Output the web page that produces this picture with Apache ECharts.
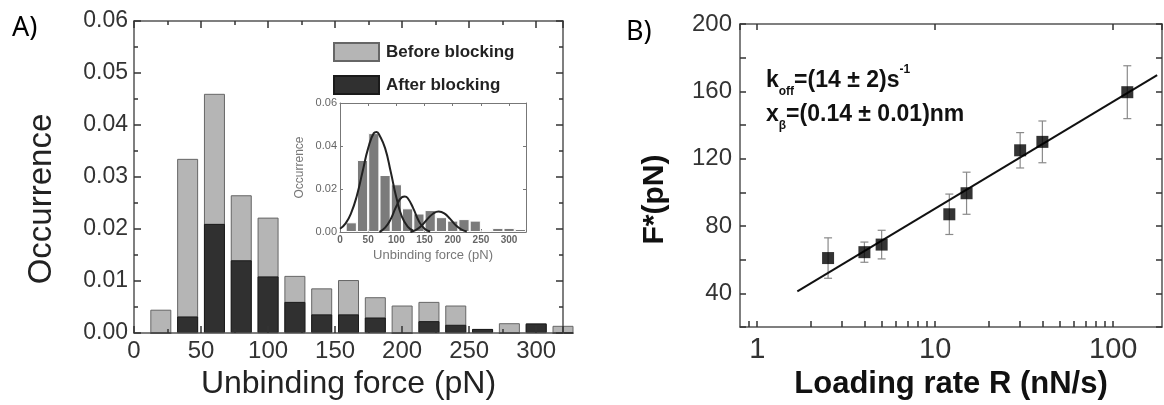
<!DOCTYPE html>
<html>
<head>
    <meta charset="UTF-8">
    <title>Unbinding force / loading rate</title>
    <script src="https://cdn.jsdelivr.net/npm/echarts@6.0.0/dist/echarts.min.js"></script>
    <style>
        html, body { margin: 0; padding: 0; background: #fff; }
    </style>
</head>
<body>

<div id="main" style="width: 1164px;height:405px"></div>

<script type="text/javascript">
    // ---- panel A: histogram data (pN bin centres, occurrence) ----
    var forceBins = [20, 40, 60, 80, 100, 120, 140, 160, 180, 200, 220, 240, 260, 280, 300, 320];
    var beforeBlocking = [0.0045, 0.0335, 0.046, 0.0265, 0.0222, 0.011, 0.0086, 0.0102, 0.0069, 0.0053, 0.006, 0.0053, 0.0008, 0.0019, 0.0019, 0.0014];
    var afterBlocking = [0, 0.0032, 0.021, 0.014, 0.0109, 0.006, 0.0036, 0.0036, 0.003, 0, 0.0023, 0.0016, 0.0008, 0, 0.0018, 0];

    // inset fitted peaks
    var peak1 = [[0, 0.0015], [10, 0.004], [20, 0.009], [30, 0.017], [40, 0.028], [50, 0.039], [60, 0.046], [65, 0.0465], [70, 0.045], [80, 0.039], [90, 0.028], [100, 0.016], [110, 0.007], [120, 0.0025], [130, 0.0006]];
    var peak2 = [[70, 0], [80, 0.002], [90, 0.006], [100, 0.012], [110, 0.0162], [115, 0.0165], [120, 0.0158], [130, 0.011], [140, 0.005], [150, 0.0015], [160, 0.0002]];
    var peak3 = [[125, 0], [135, 0.001], [145, 0.003], [155, 0.006], [165, 0.0085], [175, 0.0095], [185, 0.0087], [195, 0.0062], [205, 0.0032], [215, 0.0012], [225, 0.0002]];

    // ---- panel B: loading rate (nN/s), F* (pN), error (pN) ----
    var loadingRate = [2.5, 4, 5, 12, 15, 30, 40, 120];
    var forceStar = [61, 64.5, 69, 87, 99.5, 125, 130, 159.5];
    var forceErr = [12, 6, 8.5, 12, 12.5, 10.5, 12.4, 15.7];
    var fitLine = [[1.68, 41.2], [176.6, 169.7]];
    var rateLabels = [1, 10, 100];
    var rateTicks = [0.9, 1, 2, 3, 4, 5, 6, 7, 8, 9, 10, 20, 30, 40, 50, 60, 70, 80, 90, 100];
    var fLabels = [40, 80, 120, 160, 200];

    var FONT = 'Liberation Sans, Arial, sans-serif';
    var TICK = { color: '#333', width: 1.5 };

    function zip(xs, ys) {
        return xs.map(function (x, i) { return [x, ys[i]]; });
    }

    function frameAxis(opts) {
        // mirror axis on the top / right: line + inside ticks, no labels
        var a = {
            show: true,
            axisLine: { show: true, onZero: false, lineStyle: { color: opts.color || '#555', width: opts.width || 1.5 } },
            axisTick: { show: true, inside: true, length: opts.tick || 7, lineStyle: opts.color ? { color: opts.color } : TICK },
            axisLabel: { show: false },
            splitLine: { show: false },
            z: 5
        };
        for (var k in opts.extra) a[k] = opts.extra[k];
        return a;
    }

    var myChart = echarts.init(document.getElementById('main'));

    var xA = {
        type: 'value', gridIndex: 0, min: 0, max: 320, interval: 50, position: 'bottom', z: 5,
        axisLine: { onZero: false, lineStyle: { color: '#555', width: 1.5 } },
        axisTick: { inside: true, length: 7, lineStyle: TICK },
        minorTick: { show: true, splitNumber: 2, length: 4, lineStyle: TICK },
        axisLabel: { fontSize: 24, color: '#333', fontFamily: FONT, margin: 6, showMaxLabel: false },
        splitLine: { show: false },
        name: 'Unbinding force (pN)', nameLocation: 'middle', nameGap: 26,
        nameTextStyle: { fontSize: 32, color: '#222', fontFamily: FONT }
    };
    var yA = {
        type: 'value', gridIndex: 0, min: 0, max: 0.06, interval: 0.01, position: 'left', z: 5,
        axisLine: { show: true, lineStyle: { color: '#555', width: 1.5 } },
        axisTick: { show: true, inside: true, length: 7, lineStyle: TICK },
        minorTick: { show: true, splitNumber: 2, length: 4, lineStyle: TICK },
        axisLabel: { fontSize: 23, color: '#333', fontFamily: FONT, margin: 6, formatter: function (v) { return v.toFixed(2); } },
        splitLine: { show: false },
        name: 'Occurrence', nameLocation: 'middle', nameGap: 76,
        nameTextStyle: { fontSize: 33, color: '#222', fontFamily: FONT, padding: [0, 44, 0, 0] }
    };

    var xIn = {
        type: 'value', gridIndex: 1, min: 0, max: 330, interval: 50, position: 'bottom',
        axisLine: { onZero: false, lineStyle: { color: '#777', width: 1 } },
        axisTick: { inside: true, length: 3, lineStyle: { color: '#777' } },
        axisLabel: { fontSize: 10, color: '#666', fontFamily: FONT, fontWeight: 'bold', margin: 3, showMaxLabel: false },
        splitLine: { show: false },
        name: 'Unbinding force (pN)', nameLocation: 'middle', nameGap: 17,
        nameTextStyle: { fontSize: 13, color: '#777', fontFamily: FONT }
    };
    var yIn = {
        type: 'value', gridIndex: 1, min: 0, max: 0.06, interval: 0.02, position: 'left',
        axisLine: { show: true, lineStyle: { color: '#777', width: 1 } },
        axisTick: { show: true, inside: true, length: 3, lineStyle: { color: '#777' } },
        axisLabel: { fontSize: 11, color: '#666', fontFamily: FONT, margin: 3, formatter: function (v) { return v.toFixed(2); } },
        splitLine: { show: false },
        name: 'Occurrence', nameLocation: 'middle', nameGap: 34,
        nameTextStyle: { fontSize: 12, color: '#777', fontFamily: FONT }
    };

    var xB = {
        type: 'log', gridIndex: 2, logBase: 10, min: 0.8, max: 188, position: 'bottom', z: 5,
        axisLine: { onZero: false, lineStyle: { color: '#555', width: 1.5 } },
        axisTick: { show: true, inside: true, length: 6, customValues: rateTicks, lineStyle: TICK },
        axisLabel: { fontSize: 29, color: '#333', fontFamily: FONT, margin: 8, customValues: rateLabels },
        splitLine: { show: false },
        name: 'Loading rate R (nN/s)', nameLocation: 'middle', nameGap: 33,
        nameTextStyle: { fontSize: 31, fontWeight: 'bold', color: '#111', fontFamily: FONT }
    };
    var yB = {
        type: 'value', gridIndex: 2, min: 20, max: 200, interval: 20, position: 'left', z: 5,
        axisLine: { show: true, lineStyle: { color: '#555', width: 1.5 } },
        axisTick: { show: true, inside: true, length: 6, lineStyle: TICK },
        axisLabel: { fontSize: 24, color: '#333', fontFamily: FONT, margin: 8, customValues: fLabels },
        splitLine: { show: false },
        name: 'F*(pN)', nameLocation: 'middle', nameGap: 70,
        nameTextStyle: { fontSize: 30, fontWeight: 'bold', color: '#111', fontFamily: FONT, padding: [0, 48, 0, 0] }
    };

    option = {
        backgroundColor: '#fff',
        animation: false,
        grid: [
            { left: 134, top: 21, width: 429, height: 319 },
            { left: 340, top: 103, width: 186, height: 129 },
            { left: 740, top: 24, width: 422, height: 314 }
        ],
        legend: {
            data: ['Before blocking', 'After blocking'],
            orient: 'vertical', left: 328, top: 37,
            itemWidth: 45, itemHeight: 18, itemGap: 13, icon: 'rect',
            textStyle: { fontSize: 17, fontWeight: 'bold', color: '#222', fontFamily: FONT, padding: [0, 0, 0, 2] }
        },
        xAxis: [
            xA,
            frameAxis({ extra: { type: 'value', gridIndex: 0, min: 0, max: 320, interval: 50, position: 'top',
                minorTick: { show: true, splitNumber: 2, length: 4, lineStyle: TICK } } }),
            xIn,
            frameAxis({ color: '#777', width: 1, tick: 3, extra: { type: 'value', gridIndex: 1, min: 0, max: 330, interval: 50, position: 'top' } }),
            xB,
            frameAxis({ tick: 6, extra: { type: 'log', gridIndex: 2, logBase: 10, min: 0.8, max: 188, position: 'top' } })
        ],
        yAxis: [
            yA,
            frameAxis({ extra: { type: 'value', gridIndex: 0, min: 0, max: 0.06, interval: 0.01, position: 'right',
                minorTick: { show: true, splitNumber: 2, length: 4, lineStyle: TICK } } }),
            yIn,
            frameAxis({ color: '#777', width: 1, tick: 3, extra: { type: 'value', gridIndex: 1, min: 0, max: 0.06, interval: 0.02, position: 'right' } }),
            yB,
            frameAxis({ tick: 6, extra: { type: 'value', gridIndex: 2, min: 20, max: 200, interval: 20, position: 'right' } })
        ],
        series: [
            {
                name: 'Before blocking', type: 'bar', xAxisIndex: 0, yAxisIndex: 0,
                data: zip(forceBins, beforeBlocking), barWidth: 21, barGap: '-100%',
                itemStyle: { color: '#b5b5b5', borderColor: '#666', borderWidth: 1 }
            },
            {
                name: 'After blocking', type: 'bar', xAxisIndex: 0, yAxisIndex: 0,
                data: zip(forceBins, afterBlocking), barWidth: 21, barGap: '-100%',
                itemStyle: { color: '#303030', borderColor: '#1a1a1a', borderWidth: 1 }
            },
            {
                name: 'inset', type: 'bar', xAxisIndex: 2, yAxisIndex: 2,
                data: zip(forceBins, beforeBlocking), barWidth: 11.2,
                itemStyle: { color: '#7b7b7b', borderColor: '#fff', borderWidth: 1 }
            },
            { type: 'line', xAxisIndex: 2, yAxisIndex: 2, data: peak1, smooth: true, showSymbol: false, lineStyle: { color: '#222', width: 2 } },
            { type: 'line', xAxisIndex: 2, yAxisIndex: 2, data: peak2, smooth: true, showSymbol: false, lineStyle: { color: '#222', width: 2 } },
            { type: 'line', xAxisIndex: 2, yAxisIndex: 2, data: peak3, smooth: true, showSymbol: false, lineStyle: { color: '#222', width: 2 } },
            {
                type: 'custom', xAxisIndex: 4, yAxisIndex: 4,
                data: loadingRate.map(function (r, i) { return [r, forceStar[i], forceErr[i]]; }),
                encode: { x: 0, y: 1 },
                renderItem: function (params, api) {
                    var x = api.value(0), y = api.value(1), e = api.value(2);
                    var hi = api.coord([x, y + e]), lo = api.coord([x, y - e]);
                    var w = 4, st = { stroke: '#8a8a8a', lineWidth: 1.2 };
                    return {
                        type: 'group', children: [
                            { type: 'line', shape: { x1: hi[0], y1: hi[1], x2: lo[0], y2: lo[1] }, style: st },
                            { type: 'line', shape: { x1: hi[0] - w, y1: hi[1], x2: hi[0] + w, y2: hi[1] }, style: st },
                            { type: 'line', shape: { x1: lo[0] - w, y1: lo[1], x2: lo[0] + w, y2: lo[1] }, style: st }
                        ]
                    };
                },
                z: 2
            },
            {
                type: 'line', xAxisIndex: 4, yAxisIndex: 4, data: fitLine, showSymbol: false,
                lineStyle: { color: '#111', width: 2 }, z: 3
            },
            {
                type: 'scatter', xAxisIndex: 4, yAxisIndex: 4, data: zip(loadingRate, forceStar),
                symbol: 'rect', symbolSize: 12, itemStyle: { color: '#000' }, z: 4
            }
        ],
        graphic: [
            { type: 'text', left: 12, top: 15, style: { text: 'A)', fontSize: 27, fill: '#000', fontFamily: 'Noto Sans, sans-serif' } },
            { type: 'text', left: 626, top: 19, style: { text: 'B)', fontSize: 27, fill: '#000', fontFamily: 'Noto Sans, sans-serif' } },
            {
                type: 'text', left: 766, top: 64,
                style: {
                    text: '{b|k}{sub|off}{b|=(14 ± 2)s}{sup|-1}\n{b|x}{sub|β}{b|=(0.14 ± 0.01)nm}',
                    fill: '#111',
                    rich: {
                        b: { fontSize: 23, fontWeight: 'bold', fontFamily: FONT, lineHeight: 34, fill: '#111' },
                        sub: { fontSize: 12, fontWeight: 'bold', fontFamily: FONT, lineHeight: 12, verticalAlign: 'bottom', fill: '#111' },
                        sup: { fontSize: 12, fontWeight: 'bold', fontFamily: FONT, lineHeight: 20, verticalAlign: 'top', fill: '#111' }
                    }
                }
            }
        ]
    };
    myChart.setOption(option);
</script>
</body>
</html>
